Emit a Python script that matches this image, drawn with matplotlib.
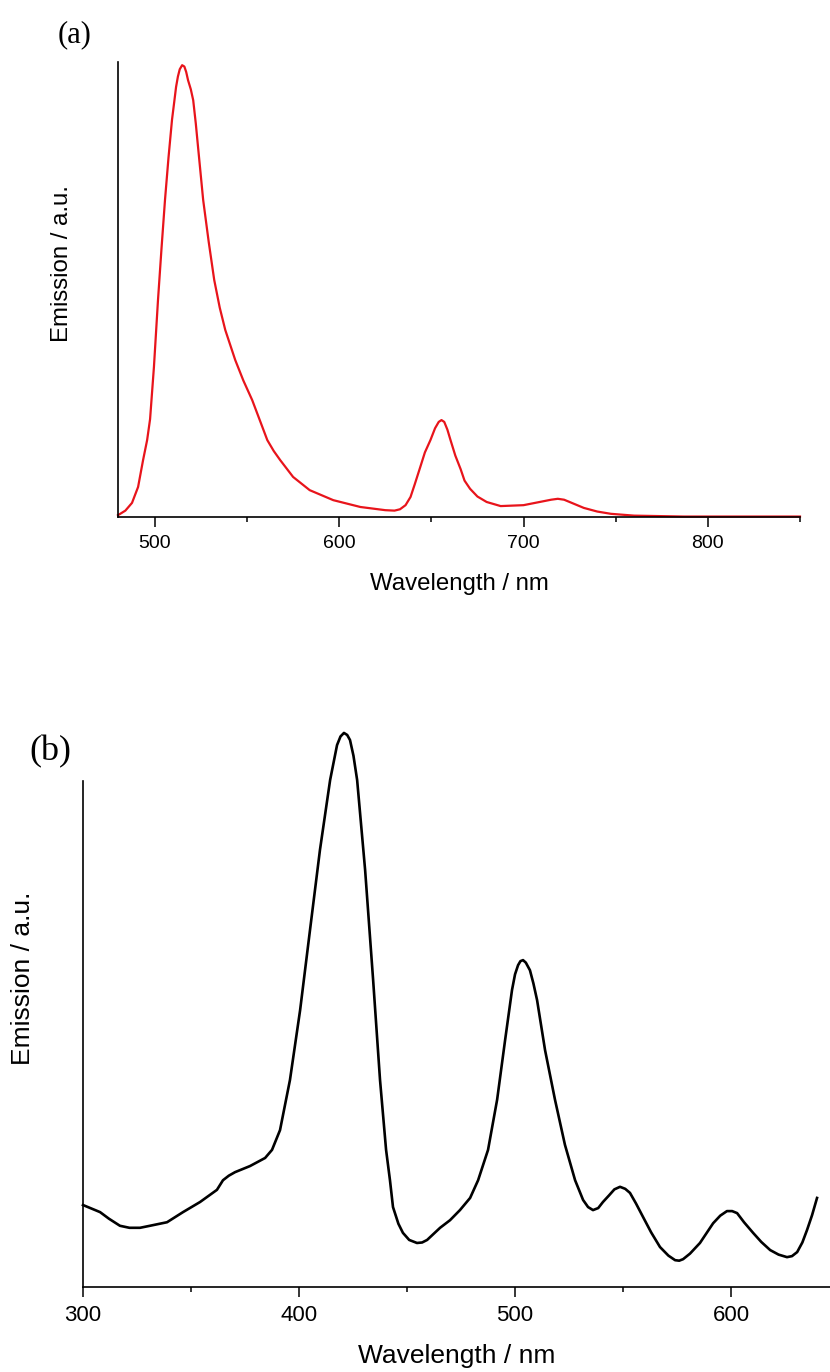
import matplotlib
matplotlib.use("Agg")
import matplotlib.pyplot as plt
from matplotlib.ticker import MultipleLocator

# ── data ─────────────────────────────────────────────────────────────────────

# (a) emission, red trace
wl_a = [480.0, 484.0, 487.6, 490.9, 493.6, 495.8, 497.4, 499.5, 501.7, 503.6,
        505.5, 507.4, 509.3, 510.5, 511.5, 512.5, 513.5, 514.8, 516.0, 517.0,
        518.0, 519.5, 520.8, 522.2, 523.5, 526.2, 529.2, 532.2, 535.2, 538.2,
        543.6, 548.0, 552.8, 557.0, 561.0, 564.5, 568.0, 575.0, 584.0, 596.8,
        611.5, 625.0, 630.0, 633.0, 636.0, 638.7, 641.0, 644.0, 646.5, 649.5,
        652.0, 654.0, 655.5, 657.0, 658.7, 660.4, 663.0, 665.9, 668.0, 671.0,
        675.0, 680.0, 687.6, 700.0, 710.0, 715.0, 718.6, 722.0, 725.0, 732.7,
        740.0, 747.4, 760.0, 787.0, 820.0, 850.0]
em_a = [0.004, 0.014, 0.031, 0.066, 0.125, 0.169, 0.215, 0.330, 0.477, 0.590,
        0.697, 0.790, 0.873, 0.912, 0.945, 0.968, 0.984, 0.993, 0.990, 0.978,
        0.960, 0.940, 0.916, 0.865, 0.810, 0.697, 0.605, 0.521, 0.460, 0.411,
        0.345, 0.300, 0.257, 0.212, 0.169, 0.145, 0.125, 0.088, 0.059, 0.037,
        0.022, 0.015, 0.014, 0.017, 0.026, 0.044, 0.072, 0.110, 0.142, 0.169,
        0.195, 0.209, 0.213, 0.209, 0.192, 0.169, 0.135, 0.105, 0.080, 0.062,
        0.045, 0.033, 0.024, 0.026, 0.034, 0.038, 0.040, 0.038, 0.033, 0.020,
        0.012, 0.007, 0.003, 0.001, 0.001, 0.001]

# (b) emission, black trace
wl_b = [300.0, 307.9, 312.0, 317.1, 321.5, 326.4, 331.0, 338.9, 346.3, 354.2,
        362.0, 364.8, 367.5, 370.4, 377.3, 384.3, 387.5, 391.2, 395.8, 400.5,
        405.1, 409.7, 414.4, 417.6, 419.2, 420.8, 422.3, 423.6, 425.2, 426.9,
        430.6, 434.3, 437.5, 440.3, 442.1, 443.5, 446.0, 448.1, 451.0, 454.6,
        457.0, 459.3, 465.3, 469.9, 474.5, 479.2, 482.9, 487.5, 491.7, 495.4,
        498.6, 500.0, 501.4, 502.5, 503.7, 505.0, 506.9, 508.5, 510.2, 513.9,
        518.5, 523.1, 527.8, 531.5, 533.8, 536.1, 538.5, 540.7, 543.5, 546.0,
        548.6, 551.0, 553.2, 556.0, 559.3, 563.0, 567.1, 571.0, 574.1, 576.0,
        577.8, 581.0, 585.6, 591.7, 595.0, 598.1, 600.5, 602.8, 606.0, 610.2,
        614.0, 618.1, 622.0, 625.9, 628.2, 630.6, 633.0, 635.2, 637.5, 639.8]
em_b = [0.162, 0.148, 0.135, 0.121, 0.117, 0.117, 0.121, 0.128, 0.148, 0.168,
        0.192, 0.211, 0.220, 0.227, 0.239, 0.255, 0.271, 0.310, 0.409, 0.547,
        0.706, 0.864, 1.002, 1.071, 1.088, 1.095, 1.091, 1.081, 1.050, 1.002,
        0.824, 0.607, 0.409, 0.271, 0.211, 0.158, 0.125, 0.107, 0.093, 0.087,
        0.088, 0.093, 0.117, 0.132, 0.152, 0.176, 0.211, 0.271, 0.370, 0.488,
        0.587, 0.618, 0.636, 0.644, 0.646, 0.641, 0.626, 0.600, 0.567, 0.468,
        0.370, 0.281, 0.211, 0.172, 0.158, 0.152, 0.156, 0.168, 0.181, 0.193,
        0.198, 0.194, 0.186, 0.165, 0.138, 0.108, 0.079, 0.062, 0.053, 0.052,
        0.055, 0.066, 0.087, 0.126, 0.141, 0.150, 0.150, 0.146, 0.128, 0.107,
        0.089, 0.073, 0.064, 0.059, 0.061, 0.069, 0.088, 0.113, 0.142, 0.176]

W, H = 830, 1372
plt.rcParams["font.family"] = "Liberation Sans"


def frac(x0, y0, x1, y1):
    # pixel box (top-left origin) -> figure fraction rect
    return [x0 / W, 1 - y1 / H, (x1 - x0) / W, (y1 - y0) / H]


def style(ax, tick_fs, lab_fs, ylab_xy, xlab_xy, ylab_fs):
    for s in ("top", "right"):
        ax.spines[s].set_visible(False)
    for s in ("left", "bottom"):
        ax.spines[s].set_linewidth(1.2)
    ax.set_yticks([])
    ax.xaxis.set_major_locator(MultipleLocator(100))
    ax.xaxis.set_minor_locator(MultipleLocator(50))
    ax.tick_params(axis="x", which="major", direction="out", length=7,
                   width=1.1, labelsize=tick_fs, pad=6)
    ax.tick_params(axis="x", which="minor", direction="out", length=3.5,
                   width=1.1)
    ax.set_xlabel("Wavelength / nm", fontsize=lab_fs)
    ax.set_ylabel("Emission / a.u.", fontsize=ylab_fs)
    ax.xaxis.set_label_coords(*xlab_xy)
    ax.yaxis.set_label_coords(*ylab_xy)


fig = plt.figure(figsize=(W / 100, H / 100), dpi=100)

# ── panel (a) ────────────────────────────────────────────────────────────────
ax1 = fig.add_axes(frac(118, 62, 800, 517))
ax1.plot(wl_a, em_a, color="#E8141B", linewidth=1.6, clip_on=False)
ax1.set_xlim(480, 850)
ax1.set_ylim(0, 1.0)
style(ax1, 14, 17.3, (-0.066, 0.558), (0.5, -0.123), 17.3)
fig.text(75 / W, 1 - 35 / H, "(a)", family="Liberation Serif", fontsize=22,
         ha="center", va="center")

# ── panel (b) ────────────────────────────────────────────────────────────────
ax2 = fig.add_axes(frac(83, 781, 830, 1287))
ax2.plot(wl_b, em_b, color="black", linewidth=1.9, clip_on=False)
ax2.set_xlim(300, 645.8)
ax2.set_ylim(0, 1.0)
style(ax2, 16, 19, (-0.064, 0.611), (0.5, -0.112), 19)
fig.text(50 / W, 1 - 752 / H, "(b)", family="Liberation Serif", fontsize=26,
         ha="center", va="center")

fig.savefig("out.png", dpi=100, facecolor="white")
